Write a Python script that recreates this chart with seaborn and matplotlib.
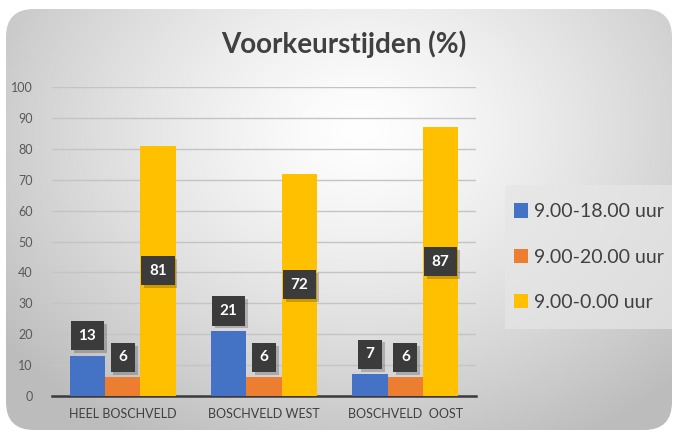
import numpy as np
import pandas as pd
import seaborn as sns
import matplotlib
matplotlib.use("Agg")
import matplotlib.pyplot as plt
import matplotlib.patheffects as pe
from matplotlib.patches import FancyBboxPatch, Patch

categories = ["HEEL BOSCHVELD", "BOSCHVELD WEST", "BOSCHVELD  OOST"]
series = ["9.00-18.00 uur", "9.00-20.00 uur", "9.00-0.00 uur"]
vals_18 = [13, 21, 7]
vals_20 = [6, 6, 6]
vals_00 = [81, 72, 87]
colors = ["#4472c4", "#ed7d31", "#ffc000"]

rows = []
for s, vals in zip(series, [vals_18, vals_20, vals_00]):
    for c, v in zip(categories, vals):
        rows.append({"wijk": c, "tijd": s, "pct": v})
df = pd.DataFrame(rows)

sns.set_style("white")
plt.rcParams["font.family"] = ["Lato", "DejaVu Sans"]

fig = plt.figure(figsize=(6.76, 4.34), dpi=100)
fig.patch.set_facecolor("white")

# rounded background with radial gradient
bg = fig.add_axes([0, 0, 1, 1], zorder=-10)
bg.set_xlim(0, 676)
bg.set_ylim(434, 0)
bg.axis("off")
yy, xx = np.mgrid[0:434, 0:676]
d = np.sqrt(((xx - 360) / 420.0) ** 2 + ((yy - 130) / 330.0) ** 2)
shade = np.clip(1.0 - 0.24 * d ** 1.3, 0.74, 1.0)
img = np.dstack([shade, shade, shade])
im = bg.imshow(img, extent=(0, 676, 434, 0), interpolation="bilinear")
clip = FancyBboxPatch((6, 9), 666, 421, boxstyle="round,pad=0,rounding_size=28",
                      transform=bg.transData, facecolor="none", edgecolor="none")
bg.add_patch(clip)
im.set_clip_path(clip)

ax = fig.add_axes([52 / 676, 1 - 396 / 434, 424 / 676, (396 - 87) / 434])
ax.patch.set_alpha(0)
sns.barplot(data=df, x="wijk", y="pct", hue="tijd", palette=colors, width=0.75,
            gap=0, saturation=1, linewidth=0, edgecolor="none", ax=ax, legend=False, zorder=3)
ax.set_ylim(0, 100)
ax.set_xlim(-0.5, 2.5)
ax.set_yticks(range(0, 101, 10))
ax.yaxis.grid(True, color="#c4c4c4", linewidth=1, zorder=0)
ax.set_axisbelow(True)
for sp in ["top", "right", "left"]:
    ax.spines[sp].set_visible(False)
ax.spines["bottom"].set_color("#3a3a3a")
ax.spines["bottom"].set_linewidth(1.8)
ax.set_xlabel("")
ax.set_ylabel("")
ax.tick_params(axis="y", length=0, labelsize=9, labelcolor="#595959", pad=14)
ax.tick_params(axis="x", which="major", length=0, labelsize=9, labelcolor="#404040", pad=9)
ax.set_xticks([-0.5, 0.5, 1.5, 2.5], minor=True)
ax.tick_params(axis="x", which="minor", length=5, width=1.8, color="#3a3a3a", direction="out")

# value labels in dark boxes with a soft shadow
for i, (s, vals) in enumerate(zip(series, [vals_18, vals_20, vals_00])):
    off = (i - 1) * 0.25
    for j, v in enumerate(vals):
        y = v / 2 if i == 2 else v + 6.5
        t = ax.text(j + off, y, str(v), ha="center", va="center", fontsize=11,
                    fontweight="bold", color="white", zorder=5,
                    bbox=dict(boxstyle="square,pad=0.5", facecolor="#3b3b3b", edgecolor="none"))
        t.get_bbox_patch().set_path_effects([
            pe.SimplePatchShadow(offset=(2, -2), shadow_rgbFace="black", alpha=0.2),
            pe.Normal()])

fig.text(344 / 676, 1 - 44 / 434, "Voorkeurstijden (%)", ha="center", va="center",
         fontsize=20, fontweight="bold", color="#404040")

# legend panel
lp = FancyBboxPatch((505, 185), 167, 144, boxstyle="square,pad=0",
                    transform=bg.transData, facecolor="#e6e6e6", edgecolor="none", alpha=0.7)
bg.add_patch(lp)
handles = [Patch(facecolor=c, edgecolor="none") for c in colors]
fig.legend(handles, series, loc="center left", bbox_to_anchor=(506 / 676, 1 - 257 / 434),
           frameon=False, fontsize=14, handlelength=0.75, handleheight=0.75,
           handletextpad=0.3, labelspacing=1.45, labelcolor="#404040", borderaxespad=0)

fig.savefig("out.png", dpi=100)
